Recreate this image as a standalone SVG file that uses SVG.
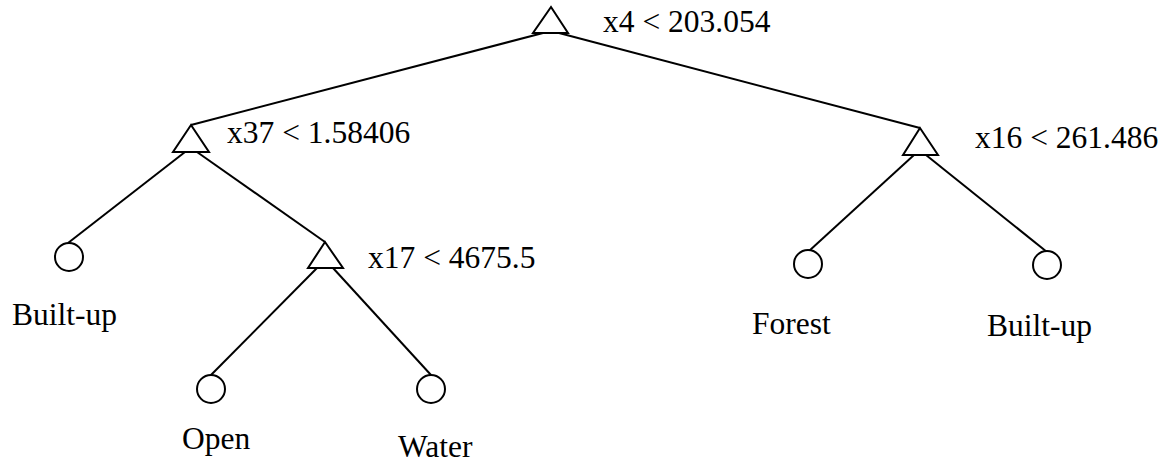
<svg xmlns="http://www.w3.org/2000/svg" width="1166" height="464" viewBox="0 0 1166 464">
  <style>
    .edge { stroke: #000; stroke-width: 2; fill: none; }
    .split { stroke: #000; stroke-width: 2; fill: #fff; stroke-linejoin: miter; }
    .leaf { stroke: #000; stroke-width: 2; fill: #fff; }
    .lbl { font-family: 'Liberation Serif', 'DejaVu Serif', serif; font-size: 31.5px; fill: #000; }
  </style>
  <rect width="1166" height="464" fill="#fff"/>

  <!-- branches of the decision tree -->
  <g id="connectors">
    <line class="edge" x1="543" y1="33" x2="191" y2="125"/>
    <line class="edge" x1="559" y1="33" x2="920" y2="128"/>
    <line class="edge" x1="185" y1="152" x2="68" y2="243"/>
    <line class="edge" x1="197" y1="152" x2="325" y2="242"/>
    <line class="edge" x1="317" y1="268" x2="211" y2="375"/>
    <line class="edge" x1="333" y1="268" x2="431" y2="375"/>
    <line class="edge" x1="914" y1="155" x2="809" y2="251"/>
    <line class="edge" x1="926" y1="155" x2="1047" y2="252"/>
  </g>

  <!-- split nodes -->
  <g id="split-x4">
    <polygon class="split" points="551,7 533,33 568,33"/>
    <text class="lbl" x="603" y="32">x4 &lt; 203.054</text>
  </g>
  <g id="split-x37">
    <polygon class="split" points="191,125 173,152 209,152"/>
    <text class="lbl" x="227" y="143">x37 &lt; 1.58406</text>
  </g>
  <g id="split-x16">
    <polygon class="split" points="920,128 903,155 938,155"/>
    <text class="lbl" x="975" y="148">x16 &lt; 261.486</text>
  </g>
  <g id="split-x17">
    <polygon class="split" points="325,242 308,268 343,268"/>
    <text class="lbl" x="368" y="268">x17 &lt; 4675.5</text>
  </g>

  <!-- leaf nodes -->
  <g id="leaf-builtup-left">
    <circle class="leaf" cx="69" cy="257" r="14"/>
    <text class="lbl" x="12" y="325">Built-up</text>
  </g>
  <g id="leaf-open">
    <circle class="leaf" cx="211" cy="389" r="14"/>
    <text class="lbl" x="182" y="449">Open</text>
  </g>
  <g id="leaf-water">
    <circle class="leaf" cx="431" cy="389" r="14"/>
    <text class="lbl" x="398" y="457">Water</text>
  </g>
  <g id="leaf-forest">
    <circle class="leaf" cx="808" cy="264" r="14"/>
    <text class="lbl" x="752" y="334">Forest</text>
  </g>
  <g id="leaf-builtup-right">
    <circle class="leaf" cx="1047" cy="265" r="14"/>
    <text class="lbl" x="987" y="336">Built-up</text>
  </g>
</svg>
